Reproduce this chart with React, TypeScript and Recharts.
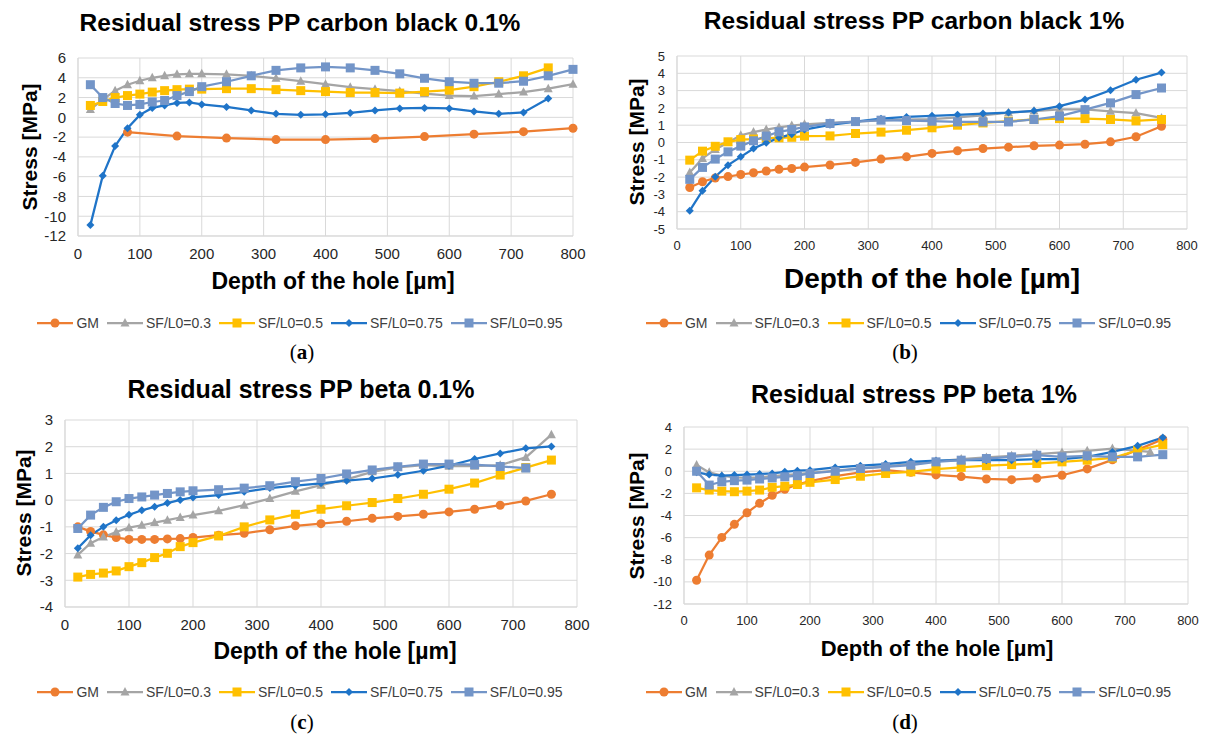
import { LineChart, Line, XAxis, YAxis, CartesianGrid } from "recharts";

// depth positions [µm]
const depth24 = [20, 40, 60, 80, 100, 120, 140, 160, 180, 200, 240, 280, 320, 360, 400, 440, 480, 520, 560, 600, 640, 680, 720, 760];
const depth25 = [...depth24, 800];
const depth23 = depth24.slice(0, 23);
const depthGmA = [80, 160, 240, 320, 400, 480, 560, 640, 720, 800];
const depthSf03D = [...depth24.slice(0, 22), 740];
const xTicks = [0, 100, 200, 300, 400, 500, 600, 700, 800];

// (a) carbon black 0.1%
const aGm = [-1.5, -1.9, -2.1, -2.25, -2.25, -2.15, -1.95, -1.7, -1.45, -1.1];
const aSf03 = [0.8, 1.8, 2.7, 3.3, 3.7, 4.0, 4.2, 4.35, 4.4, 4.4, 4.35, 4.2, 3.95, 3.65, 3.35, 3.05, 2.85, 2.65, 2.4, 2.2, 2.15, 2.35, 2.55, 2.9, 3.35];
const aSf05 = [1.2, 1.6, 2.0, 2.2, 2.35, 2.55, 2.7, 2.8, 2.85, 2.85, 2.9, 2.9, 2.8, 2.7, 2.6, 2.5, 2.5, 2.45, 2.6, 2.75, 3.1, 3.6, 4.2, 5.0];
const aSf075 = [-10.9, -5.9, -2.9, -1.1, 0.25, 0.95, 1.2, 1.45, 1.5, 1.3, 1.05, 0.7, 0.35, 0.25, 0.3, 0.45, 0.7, 0.9, 0.95, 0.9, 0.6, 0.35, 0.5, 1.9];
const aSf095 = [3.3, 2.0, 1.4, 1.2, 1.3, 1.55, 1.7, 2.2, 2.6, 3.1, 3.6, 4.2, 4.75, 5.0, 5.1, 5.0, 4.75, 4.4, 3.95, 3.6, 3.45, 3.45, 3.65, 4.2, 4.85];

// (b) carbon black 1%
const bGm = [-2.6, -2.27, -2.05, -1.97, -1.85, -1.75, -1.65, -1.55, -1.5, -1.42, -1.3, -1.15, -0.96, -0.83, -0.63, -0.48, -0.35, -0.27, -0.19, -0.15, -0.1, 0.04, 0.33, 0.94];
const bSf03 = [-1.73, -0.92, -0.4, 0.0, 0.42, 0.6, 0.75, 0.87, 0.98, 1.05, 1.13, 1.2, 1.28, 1.32, 1.35, 1.45, 1.57, 1.72, 1.82, 1.92, 1.92, 1.8, 1.7, 1.42];
const bSf05 = [-1.02, -0.5, -0.22, 0.04, 0.17, 0.2, 0.25, 0.27, 0.3, 0.37, 0.38, 0.52, 0.6, 0.71, 0.85, 1.0, 1.13, 1.23, 1.33, 1.38, 1.38, 1.33, 1.25, 1.33];
const bSf075 = [-3.94, -2.79, -1.98, -1.31, -0.83, -0.35, -0.02, 0.27, 0.48, 0.75, 1.02, 1.21, 1.38, 1.48, 1.54, 1.6, 1.67, 1.73, 1.83, 2.1, 2.48, 3.02, 3.63, 4.04];
const bSf095 = [-2.13, -1.44, -0.96, -0.54, -0.21, 0.1, 0.37, 0.62, 0.75, 0.9, 1.1, 1.21, 1.29, 1.27, 1.23, 1.19, 1.19, 1.19, 1.33, 1.52, 1.9, 2.29, 2.77, 3.15];

// (c) beta 0.1%
const cGm = [-1.0, -1.17, -1.3, -1.4, -1.47, -1.47, -1.47, -1.45, -1.44, -1.4, -1.31, -1.24, -1.11, -0.96, -0.88, -0.79, -0.68, -0.61, -0.53, -0.44, -0.34, -0.19, -0.03, 0.22];
const cSf03 = [-2.05, -1.61, -1.38, -1.19, -1.03, -0.94, -0.84, -0.75, -0.65, -0.56, -0.4, -0.19, 0.06, 0.33, 0.56, 0.78, 1.06, 1.23, 1.31, 1.27, 1.27, 1.31, 1.6, 2.45];
const cSf05 = [-2.88, -2.78, -2.73, -2.65, -2.49, -2.34, -2.15, -1.99, -1.74, -1.59, -1.34, -1.0, -0.74, -0.53, -0.34, -0.21, -0.09, 0.06, 0.22, 0.41, 0.64, 0.94, 1.22, 1.5];
const cSf075 = [-1.8, -1.31, -1.0, -0.75, -0.55, -0.38, -0.25, -0.11, 0.01, 0.1, 0.19, 0.31, 0.45, 0.54, 0.63, 0.73, 0.81, 0.95, 1.1, 1.29, 1.54, 1.75, 1.94, 2.01];
const cSf095 = [-1.06, -0.56, -0.27, -0.06, 0.06, 0.12, 0.19, 0.25, 0.31, 0.35, 0.39, 0.45, 0.54, 0.69, 0.81, 0.98, 1.13, 1.25, 1.35, 1.35, 1.33, 1.26, 1.2];

// (d) beta 1%
const dGm = [-9.85, -7.58, -5.98, -4.8, -3.75, -2.9, -2.18, -1.63, -1.2, -0.9, -0.45, -0.1, 0.1, -0.1, -0.33, -0.48, -0.7, -0.76, -0.63, -0.36, 0.21, 1.03, 1.93, 2.9];
const dSf03 = [0.57, -0.1, -0.4, -0.55, -0.6, -0.55, -0.45, -0.35, -0.25, -0.15, 0.05, 0.25, 0.45, 0.65, 0.9, 1.1, 1.25, 1.4, 1.55, 1.7, 1.85, 2.05, 1.75];
const dSf05 = [-1.5, -1.7, -1.8, -1.85, -1.8, -1.7, -1.45, -1.35, -1.2, -1.0, -0.75, -0.45, -0.2, -0.05, 0.2, 0.35, 0.5, 0.6, 0.7, 0.85, 1.0, 1.2, 1.9, 2.4];
const dSf075 = [-0.1, -0.3, -0.4, -0.35, -0.3, -0.25, -0.2, -0.05, 0.05, 0.1, 0.35, 0.5, 0.65, 0.85, 0.95, 1.0, 1.0, 1.0, 1.1, 1.1, 1.3, 1.75, 2.3, 3.05];
const dSf095 = [0.0, -1.25, -0.95, -0.85, -0.8, -0.7, -0.6, -0.5, -0.4, -0.2, 0.0, 0.25, 0.4, 0.55, 0.85, 1.0, 1.15, 1.3, 1.45, 1.3, 1.4, 1.3, 1.3, 1.5];

const seriesNames = ["GM", "SF/L0=0.3", "SF/L0=0.5", "SF/L0=0.75", "SF/L0=0.95"];
const seriesColors = ["#ED7D31", "#A5A5A5", "#FFC000", "#1F74C8", "#7395C8"];
const seriesShapes = ["circle", "triangle", "square", "diamond", "square"];

const FONT = "'Liberation Sans', Arial, sans-serif";

const zip = (xs: number[], ys: number[]) => xs.map((x, i) => ({ x, y: ys[i] }));

function Marker({ cx, cy, shape, color }: { cx: number; cy: number; shape: string; color: string }) {
  if (cx == null || cy == null) return null;
  if (shape === "circle") return <circle cx={cx} cy={cy} r={4.5} fill={color} />;
  if (shape === "triangle")
    return <polygon points={`${cx},${cy - 5} ${cx + 4.5},${cy + 3.5} ${cx - 4.5},${cy + 3.5}`} fill={color} />;
  if (shape === "diamond")
    return <polygon points={`${cx},${cy - 4} ${cx + 4},${cy} ${cx},${cy + 4} ${cx - 4},${cy}`} fill={color} />;
  return <rect x={cx - 4.5} y={cy - 4.5} width={9} height={9} fill={color} />;
}

function LegendRow({ left, top, width }: { left: number; top: number; width: number }) {
  return (
    <div
      style={{
        position: "absolute", left, top, width, display: "flex", justifyContent: "center",
        fontFamily: FONT, fontSize: 14, color: "#404040", lineHeight: "16px",
      }}
    >
      {seriesNames.map((n, i) => (
        <div key={n} style={{ display: "flex", alignItems: "center", marginRight: i < 4 ? 8 : 0 }}>
          <svg width={36} height={12} style={{ marginRight: 3 }}>
            <line x1={0} y1={6} x2={36} y2={6} stroke={seriesColors[i]} strokeWidth={2.25} />
            <Marker cx={18} cy={6} shape={seriesShapes[i]} color={seriesColors[i]} />
          </svg>
          <span>{n}</span>
        </div>
      ))}
    </div>
  );
}

type PanelProps = {
  left: number; top: number; w: number; h: number;
  px0: number; px1: number; py0: number; py1: number;
  yDomain: [number, number]; yTicks: number[]; tickFont: number;
  lines: { x: number; y: number }[][];
};

function Panel({ left, top, w, h, px0, px1, py0, py1, yDomain, yTicks, tickFont, lines }: PanelProps) {
  const yw = 50;
  const xh = 30;
  return (
    <div style={{ position: "absolute", left, top }}>
      <LineChart width={w} height={h} margin={{ top: py0, right: w - px1, bottom: h - py1 - xh, left: px0 - yw }}>
        <CartesianGrid stroke="#D9D9D9" strokeWidth={1} />
        <XAxis
          dataKey="x" type="number" domain={[0, 800]} ticks={xTicks} interval={0} height={xh}
          tickLine={false} axisLine={{ stroke: "#D9D9D9" }} tickMargin={6}
          tick={{ fontSize: tickFont, fill: "#262626", fontFamily: FONT }}
        />
        <YAxis
          type="number" domain={yDomain} ticks={yTicks} interval={0} width={yw}
          tickLine={false} axisLine={{ stroke: "#D9D9D9" }} tickMargin={6}
          tick={{ fontSize: tickFont, fill: "#262626", fontFamily: FONT }}
        />
        {lines.map((pts, i) => (
          <Line
            key={seriesNames[i]} data={pts} dataKey="y" name={seriesNames[i]} type="linear"
            stroke={seriesColors[i]} strokeWidth={2.25} isAnimationActive={false}
            dot={(p: any) => <Marker key={p.index} cx={p.cx} cy={p.cy} shape={seriesShapes[i]} color={seriesColors[i]} />}
            activeDot={false}
          />
        ))}
      </LineChart>
    </div>
  );
}

function Text({ x, y, size, children, rotate, bold = true, family = FONT }: any) {
  return (
    <div
      style={{
        position: "absolute", left: x, top: y, whiteSpace: "nowrap",
        transform: `translate(-50%, -50%)${rotate ? " rotate(-90deg)" : ""}`,
        fontFamily: family, fontSize: size, fontWeight: bold ? "bold" : "normal", color: "#000", lineHeight: 1,
      }}
    >
      {children}
    </div>
  );
}

function Caption({ x, y, letter }: { x: number; y: number; letter: string }) {
  return (
    <Text x={x} y={y} size={21} bold={false} family="'Liberation Serif', 'DejaVu Serif', serif">
      (<b>{letter}</b>)
    </Text>
  );
}

export default function App() {
  return (
    <div style={{ position: "absolute", left: 0, top: 0, width: 1207, height: 742, background: "#fff", overflow: "hidden" }}>
      <Panel
        left={0} top={0} w={600} h={300} px0={78} px1={573} py0={58} py1={236}
        yDomain={[-12, 6]} yTicks={[-12, -10, -8, -6, -4, -2, 0, 2, 4, 6]} tickFont={15}
        lines={[zip(depthGmA, aGm), zip(depth25, aSf03), zip(depth24, aSf05), zip(depth24, aSf075), zip(depth25, aSf095)]}
      />
      <Panel
        left={610} top={0} w={597} h={300} px0={67} px1={577} py0={56} py1={229}
        yDomain={[-5, 5]} yTicks={[-5, -4, -3, -2, -1, 0, 1, 2, 3, 4, 5]} tickFont={13}
        lines={[zip(depth24, bGm), zip(depth24, bSf03), zip(depth24, bSf05), zip(depth24, bSf075), zip(depth24, bSf095)]}
      />
      <Panel
        left={0} top={370} w={600} h={300} px0={65} px1={577} py0={50} py1={237}
        yDomain={[-4, 3]} yTicks={[-4, -3, -2, -1, 0, 1, 2, 3]} tickFont={15}
        lines={[zip(depth24, cGm), zip(depth24, cSf03), zip(depth24, cSf05), zip(depth24, cSf075), zip(depth23, cSf095)]}
      />
      <Panel
        left={610} top={370} w={597} h={300} px0={74} px1={578} py0={57} py1={234}
        yDomain={[-12, 4]} yTicks={[-12, -10, -8, -6, -4, -2, 0, 2, 4]} tickFont={13}
        lines={[zip(depth24, dGm), zip(depthSf03D, dSf03), zip(depth24, dSf05), zip(depth24, dSf075), zip(depth24, dSf095)]}
      />

      <Text x={300} y={23} size={24.5}>Residual stress PP carbon black 0.1%</Text>
      <Text x={914} y={21} size={24.5}>Residual stress PP carbon black 1%</Text>
      <Text x={301} y={389} size={25}>Residual stress PP beta 0.1%</Text>
      <Text x={914} y={394} size={25}>Residual stress PP beta 1%</Text>

      <Text x={29} y={147} size={21} rotate>Stress [MPa]</Text>
      <Text x={636} y={142} size={21} rotate>Stress [MPa]</Text>
      <Text x={23} y={513} size={21} rotate>Stress [MPa]</Text>
      <Text x={636} y={516} size={21} rotate>Stress [MPa]</Text>

      <Text x={333} y={281} size={23}>Depth of the hole [µm]</Text>
      <Text x={932} y={279} size={28}>Depth of the hole [µm]</Text>
      <Text x={335} y={651} size={23}>Depth of the hole [µm]</Text>
      <Text x={937} y={649} size={22}>Depth of the hole [µm]</Text>

      <LegendRow left={0} top={315} width={600} />
      <LegendRow left={610} top={315} width={597} />
      <LegendRow left={0} top={684} width={600} />
      <LegendRow left={610} top={684} width={597} />

      <Caption x={302} y={352} letter="a" />
      <Caption x={905} y={352} letter="b" />
      <Caption x={302} y={722} letter="c" />
      <Caption x={905} y={722} letter="d" />
    </div>
  );
}
